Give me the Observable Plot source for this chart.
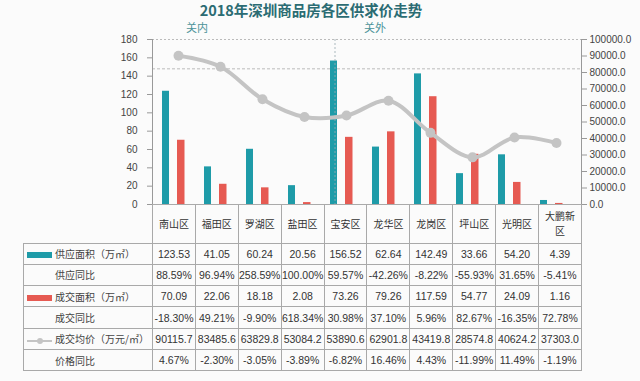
<!DOCTYPE html>
<html>
<head>
<meta charset="utf-8">
<script src="https://cdn.jsdelivr.net/npm/d3@7"></script>
<script src="https://cdn.jsdelivr.net/npm/@observablehq/plot@0.6"></script>
<style>
  html, body { margin: 0; padding: 0; background: #fbfbfb; }
  #wrap { position: relative; width: 640px; height: 381px; overflow: hidden; font-family: "Liberation Sans", "Noto Sans CJK SC", sans-serif; }
  #title { position: absolute; left: 0; width: 622px; top: 0; line-height: 19px; text-align: center; font: bold 14.5px/19px "Noto Sans CJK SC", sans-serif; color: #2b6c73; }
  .region { position: absolute; top: 19px; font: 11px "Noto Sans CJK SC", sans-serif; color: #4b9399; transform: translateX(-50%); }
  #chart { position: absolute; left: 0; top: 30px; }
  #tbl { position: absolute; left: 23px; top: 204px; border-collapse: collapse; table-layout: fixed; font-size: 10.5px; color: #333; }
  #tbl tr.data { height: 21.33px; }
  #tbl td { border: 1px solid #a9a9a9; padding: 0; text-align: center; white-space: nowrap; line-height: 14px; }
  #tbl tr.cat { height: 39px; }
  #tbl tr.cat td { line-height: 14px; border-top: none; white-space: normal; font: 10px "Noto Sans CJK SC", sans-serif; padding: 0 2px; }
  #tbl tr.cat td.blank { border: none; border-right: 1px solid #a9a9a9; }
  #tbl td.lab { text-align: left; font: 10px "Noto Sans CJK SC", sans-serif; color: #444; }
  .sw { display: inline-block; width: 25px; margin-left: 3px; margin-right: 3px; vertical-align: middle; position: relative; height: 6px; }
</style>
</head>
<body>
<div id="wrap">
  <div id="title"></div>
  <div id="chart"></div>
  <table id="tbl"></table>
</div>
<script>
const titleText = "2018年深圳商品房各区供求价走势";
const regionLabels = ["关内", "关外"];
const districts = ["南山区","福田区","罗湖区","盐田区","宝安区","龙华区","龙岗区","坪山区","光明区","大鹏新区"];
const supplyArea = [123.53, 41.05, 60.24, 20.56, 156.52, 62.64, 142.49, 33.66, 54.20, 4.39];
const supplyYoY = ["88.59%","96.94%","258.59%","100.00%","59.57%","-42.26%","-8.22%","-55.93%","31.65%","-5.41%"];
const dealArea = [70.09, 22.06, 18.18, 2.08, 73.26, 79.26, 117.59, 54.77, 24.09, 1.16];
const dealYoY = ["-18.30%","49.21%","-9.90%","618.34%","30.98%","37.10%","5.96%","82.67%","-16.35%","72.78%"];
const avgPrice = [90115.7, 83485.6, 63829.8, 53084.2, 53890.6, 62901.8, 43419.8, 28574.8, 40624.2, 37303.0];
const priceYoY = ["4.67%","-2.30%","-3.05%","-3.89%","-6.82%","16.46%","4.43%","-11.99%","11.49%","-1.19%"];
const rowLabels = ["供应面积（万㎡）","供应同比","成交面积（万㎡）","成交同比","成交均价（万元/㎡）","价格同比"];
const leftTicks = [0, 20, 40, 60, 80, 100, 120, 140, 160, 180];
const rightTicks = [0, 10000, 20000, 30000, 40000, 50000, 60000, 70000, 80000, 90000, 100000];
const dividerAt = ["宝安区"];
const dashLevel = [148];

const TEAL = "#1e9ba8", RED = "#e65a52", GRAY = "#c4c4c4";
const k = 180 / 100000; // right axis -> left axis units

const rows = districts.map((d, i) => ({district: d, supply: supplyArea[i], deal: dealArea[i], price: avgPrice[i]}));

document.getElementById("title").textContent = titleText;
const wrap = document.getElementById("wrap");
[[regionLabels[0], 197], [regionLabels[1], 375]].forEach(([t, x]) => {
  const s = document.createElement("div");
  s.className = "region"; s.style.left = x + "px"; s.textContent = t;
  wrap.appendChild(s);
});

const chart = Plot.plot({
  width: 640,
  height: 182,
  marginLeft: 152,
  marginRight: 59,
  marginTop: 9,
  marginBottom: 8,
  style: {background: "transparent", fontFamily: "Liberation Sans, sans-serif", fontSize: "10px", color: "#444", overflow: "visible"},
  x: {domain: districts, padding: 0, axis: null},
  y: {domain: [0, 180], axis: null},
  marks: [
    Plot.ruleY([180], {stroke: "#bbb", strokeDasharray: "2,2"}),
    Plot.ruleY(dashLevel, {stroke: "#bbb", strokeDasharray: "3,2"}),
    Plot.barY(rows, {x: "district", y: "supply", fill: TEAL, insetLeft: 5, insetRight: 30}),
    Plot.barY(rows, {x: "district", y: "deal", fill: RED, insetLeft: 20, insetRight: 14.5}),
    Plot.ruleX(dividerAt, {dx: -11.5, stroke: "#9aaab0", strokeDasharray: "2,2", strokeOpacity: 0.8}),
    Plot.line(rows, {x: "district", y: d => d.price * k, curve: "catmull-rom", stroke: GRAY, strokeWidth: 4}),
    Plot.dot(rows, {x: "district", y: d => d.price * k, r: 5, fill: GRAY, stroke: "none"}),
    Plot.ruleY([0], {stroke: "#aaa"}),
    Plot.frame({anchor: "left", stroke: "#999"}),
    Plot.frame({anchor: "right", stroke: "#999"}),
    Plot.axisY(leftTicks, {anchor: "left", tickSize: 5, tickPadding: 10, stroke: "#999", fill: "#444"}),
    Plot.axisY(rightTicks.map(v => v * k), {anchor: "right", tickSize: 5, tickPadding: 3, tickFormat: d => Math.round(d / k).toFixed(1), stroke: "#999", fill: "#444"})
  ]
});
document.getElementById("chart").appendChild(chart);

// data table
const tbl = document.getElementById("tbl");
const colg = document.createElement("colgroup");
const c0 = document.createElement("col"); c0.style.width = "129px"; colg.appendChild(c0);
districts.forEach(() => { const c = document.createElement("col"); c.style.width = "42.9px"; colg.appendChild(c); });
tbl.appendChild(colg);

const catRow = document.createElement("tr"); catRow.className = "cat";
const blank = document.createElement("td"); blank.className = "blank"; catRow.appendChild(blank);
districts.forEach(d => { const td = document.createElement("td"); td.textContent = d; catRow.appendChild(td); });
tbl.appendChild(catRow);

const fmt2 = v => v.toFixed(2);
const tableData = [
  supplyArea.map(fmt2), supplyYoY, dealArea.map(fmt2), dealYoY, avgPrice.map(v => v.toFixed(1)), priceYoY
];
const swatches = [
  `<span class="sw" style="background:${TEAL};height:6px"></span>`,
  `<span class="sw"></span>`,
  `<span class="sw" style="background:${RED};height:6px"></span>`,
  `<span class="sw"></span>`,
  `<span class="sw"><span style="position:absolute;left:0;top:2px;width:25px;height:2px;background:${GRAY}"></span><span style="position:absolute;left:10px;top:0;width:6px;height:6px;border-radius:3px;background:${GRAY}"></span></span>`,
  `<span class="sw"></span>`
];
tableData.forEach((vals, r) => {
  const tr = document.createElement("tr"); tr.className = "data";
  const lab = document.createElement("td"); lab.className = "lab";
  lab.innerHTML = swatches[r];
  lab.appendChild(document.createTextNode(rowLabels[r]));
  tr.appendChild(lab);
  vals.forEach(v => { const td = document.createElement("td"); td.textContent = v; tr.appendChild(td); });
  tbl.appendChild(tr);
});
</script>
</body>
</html>
